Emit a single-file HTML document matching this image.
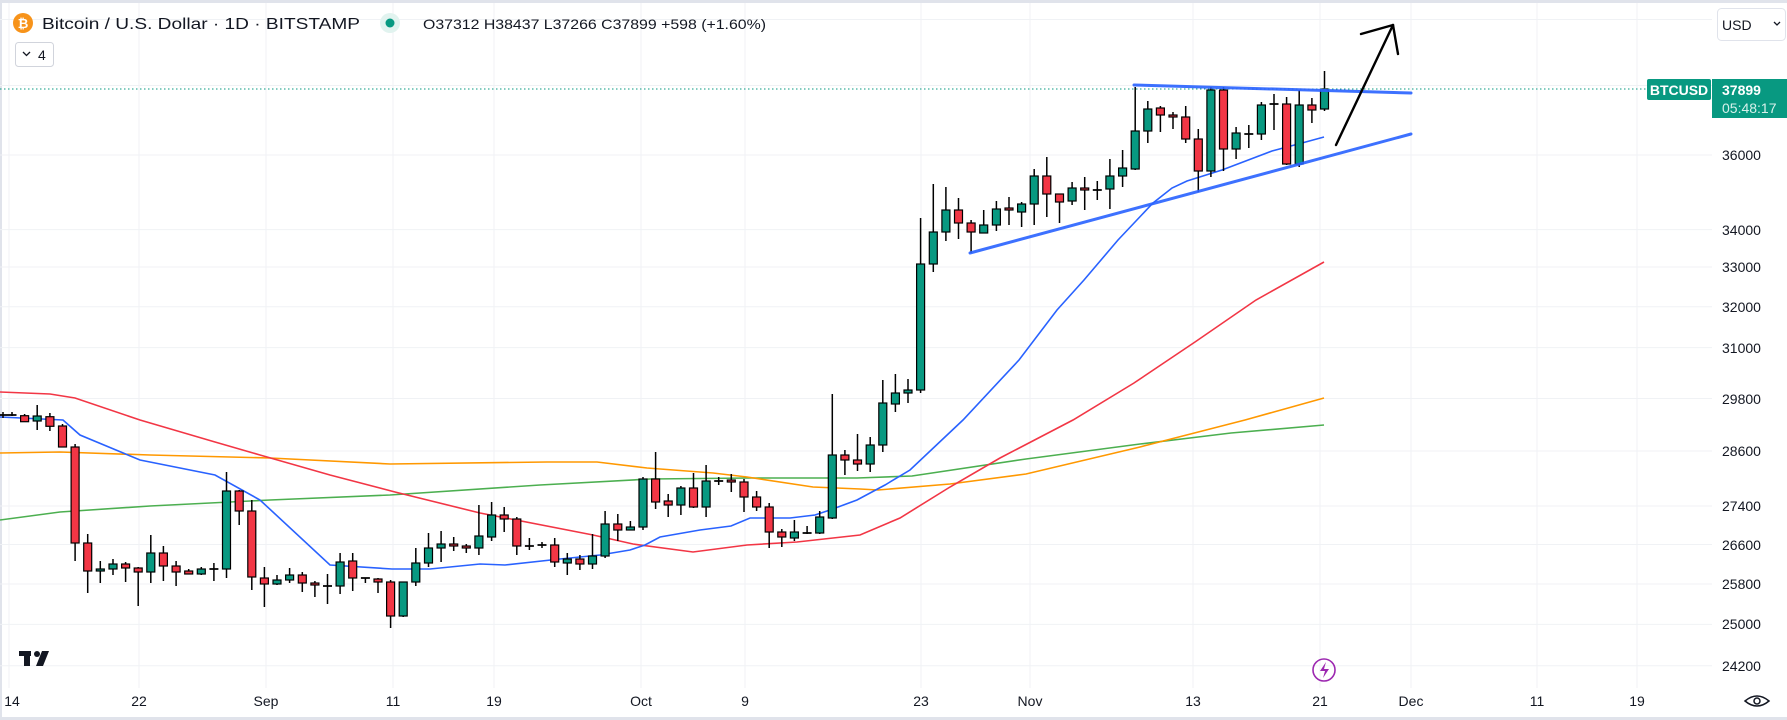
<!DOCTYPE html>
<html><head><meta charset="utf-8"><style>
html,body{margin:0;padding:0;background:#fff;}
svg{display:block;font-family:"Liberation Sans",sans-serif;}
</style></head><body>
<svg width="1787" height="720" viewBox="0 0 1787 720" xmlns="http://www.w3.org/2000/svg">
<rect x="0" y="0" width="1787" height="720" fill="#fff"/>
<rect x="0" y="0" width="1787" height="3" fill="#e0e3eb"/>
<rect x="0" y="0" width="2" height="720" fill="#e0e3eb"/>
<rect x="0" y="717" width="1787" height="3" fill="#e0e3eb"/>
<g stroke="#f0f2f5" stroke-width="1">
<path d="M0 19.5H1712M0 85.5H1712M0 155H1712M0 229.6H1712M0 267H1712M0 306.7H1712M0 347.6H1712M0 398.5H1712M0 451H1712M0 506H1712M0 544.5H1712M0 584H1712M0 624.4H1712M0 665.7H1712"/>
<path d="M9 3V688M139 3V688M266 3V688M393 3V688M494 3V688M641 3V688M745 3V688M921 3V688M1030 3V688M1193 3V688M1320 3V688M1411 3V688M1537 3V688M1637 3V688"/>
</g>
<g fill="none" stroke-width="1.6">
<polyline stroke="#4caf50" points="0,520 60,512 150,506 270,500 390,495 540,485 650,479 750,478 857,478 912,476 1026,459 1140,444 1231,433 1324,425"/>
<polyline stroke="#ff9800" points="0,453 60,452 150,455 270,458 390,464 547,462 597,462 647,468 713,473 747,477 813,487 860,489 878,490 950,484 1026,474 1140,447 1245,420 1324,398"/>
<polyline stroke="#f23645" points="0,392 50,394 75,398 140,420 215,442 260,455 330,475 395,492 480,513 593,535 633,544 693,552 747,545 797,542 860,535 900,518 950,487 1000,458 1073,420 1134,383 1195,342 1256,300 1324,262"/>
<polyline stroke="#2962ff" points="0,417 63,420 80,435 140,460 215,475 260,500 330,565 392,569 430,569 480,564 505,565 560,559 600,555 630,550 645,545 660,537 700,530 731,526 750,518 790,518 815,515 830,510 857,500 885,485 910,470 963,420 1019,360 1057,310 1084,280 1118,240 1153,203 1172,188 1187,181 1222,170 1272,151 1302,143 1324,137"/>
</g>
<!-- wicks -->
<path stroke="#000" stroke-width="1.5" fill="none" d="M3 412V418M12 412V416M24.6 414V422M37.2 405V430M49.9 413V431M62.5 424V447M75.1 444V561M87.7 534V593M100.3 561V583M113 559V575M125.6 562V582M138.2 567V606M150.8 535V583M163.4 546V581M176.1 561V586M188.7 569V574M201.3 567V575M213.9 563V581M226.5 472V578M239.2 490V525M251.8 500V590M264.4 567V607M277 575V585M289.6 568V583M302.3 572V592M314.9 581V597M327.5 574V604M340.1 553V594M352.7 553V591M365.4 578V583M378 578V593M390.6 580V628M403.2 582V617M415.8 548V586M428.5 533V567M441.1 531V562M453.7 537V551M466.3 544V553M478.9 505V555M491.6 502V541M504.2 507V532M516.8 517V555M529.4 538V550M542 542V548M554.7 538V567M567.3 553V575M579.9 555V570M592.5 534V569M605.1 511V558M617.8 514V541M630.4 521V530M643 477V530M655.6 452V509M668.2 494V517M680.9 486V515M693.5 473V508M706.1 465V517M718.7 477V485M731.3 474V492M744 479V512M756.6 491V511M769.2 503V548M781.8 529V547M794.4 520V541M807.1 526V534M819.7 511V534M832.3 394V519M844.9 450V475M857.5 434V471M870.2 437V472M882.8 380V452M895.4 374V412M908 379V403M920.6 218V393M933.3 184V272M945.9 187V241M958.5 198V239M971.1 220V253M983.7 210V233M996.4 201V231M1009 197V225M1021.6 202V227M1034.2 169V225M1046.8 157V217M1059.5 194V223M1072.1 182V205M1084.7 177V210M1097.3 181V200M1109.9 159V209M1122.6 150V187M1135.2 87V170M1147.8 101V143M1160.4 106V132M1173 112V129M1185.7 106V143M1198.3 129V192M1210.9 87V177M1223.5 87V171M1236.1 127V159M1248.8 125V148M1261.4 102V140M1274 94V130M1286.6 97V165M1299.2 90V167M1311.9 98V123M1324.5 71V111"/>
<!-- crosses -->
<path stroke="#000" stroke-width="1.8" fill="none" d="M0 415H7.5M7.5 415H16.5M209.4 569H218.4M323 586H332M360.9 578H369.9M524.9 546H533.9M537.5 545H546.5M714.2 481H723.2M802.6 533H811.6M1092.8 190H1101.8M1244.3 134H1253.3M1269.5 104H1278.5"/>
<!-- green bodies -->
<g fill="#089981" stroke="#000" stroke-width="1.2">
<rect x="33.2" y="416" width="8" height="5"/>
<rect x="96.3" y="569" width="8" height="2"/>
<rect x="109" y="564" width="8" height="5"/>
<rect x="146.8" y="553" width="8" height="19"/>
<rect x="197.3" y="569" width="8" height="5"/>
<rect x="222.5" y="491" width="8" height="78"/>
<rect x="273" y="580" width="8" height="4"/>
<rect x="285.6" y="575" width="8" height="5"/>
<rect x="336.1" y="562" width="8" height="24"/>
<rect x="399.2" y="582" width="8" height="34"/>
<rect x="411.8" y="563" width="8" height="19"/>
<rect x="424.5" y="548" width="8" height="15"/>
<rect x="437.1" y="544" width="8" height="4"/>
<rect x="474.9" y="536" width="8" height="12"/>
<rect x="487.6" y="515" width="8" height="22"/>
<rect x="563.3" y="559" width="8" height="4"/>
<rect x="588.5" y="556" width="8" height="8"/>
<rect x="601.1" y="524" width="8" height="32"/>
<rect x="626.4" y="527" width="8" height="3"/>
<rect x="639" y="479" width="8" height="48"/>
<rect x="676.9" y="488" width="8" height="17"/>
<rect x="702.1" y="481" width="8" height="26"/>
<rect x="790.4" y="532" width="8" height="6"/>
<rect x="815.7" y="517" width="8" height="16"/>
<rect x="828.3" y="455" width="8" height="63"/>
<rect x="866.2" y="445" width="8" height="19"/>
<rect x="878.8" y="403" width="8" height="42"/>
<rect x="891.4" y="393" width="8" height="11"/>
<rect x="904" y="390" width="8" height="3"/>
<rect x="916.6" y="264" width="8" height="126"/>
<rect x="929.3" y="232" width="8" height="32"/>
<rect x="941.9" y="210" width="8" height="22"/>
<rect x="979.7" y="225" width="8" height="8"/>
<rect x="992.4" y="209" width="8" height="16"/>
<rect x="1017.6" y="204" width="8" height="8"/>
<rect x="1030.2" y="176" width="8" height="28"/>
<rect x="1068.1" y="188" width="8" height="13"/>
<rect x="1105.9" y="176" width="8" height="13"/>
<rect x="1118.6" y="168" width="8" height="8"/>
<rect x="1131.2" y="131" width="8" height="38"/>
<rect x="1143.8" y="109" width="8" height="22"/>
<rect x="1206.9" y="90" width="8" height="81"/>
<rect x="1232.1" y="133" width="8" height="16"/>
<rect x="1257.4" y="105" width="8" height="29"/>
<rect x="1295.2" y="105" width="8" height="59"/>
<rect x="1320.5" y="89" width="8" height="20"/>
</g>
<!-- red bodies -->
<g fill="#f23645" stroke="#000" stroke-width="1.2">
<rect x="20.6" y="415.7" width="8" height="6"/>
<rect x="45.9" y="416.7" width="8" height="9.6"/>
<rect x="58.5" y="426" width="8" height="21"/>
<rect x="71.1" y="447" width="8" height="96"/>
<rect x="83.7" y="543" width="8" height="28"/>
<rect x="121.6" y="564" width="8" height="4"/>
<rect x="134.2" y="568" width="8" height="4"/>
<rect x="159.4" y="553" width="8" height="13"/>
<rect x="172.1" y="566" width="8" height="6"/>
<rect x="184.7" y="571" width="8" height="3"/>
<rect x="235.2" y="491" width="8" height="20"/>
<rect x="247.8" y="511" width="8" height="66"/>
<rect x="260.4" y="578" width="8" height="6"/>
<rect x="298.3" y="575" width="8" height="8"/>
<rect x="310.9" y="583" width="8" height="2"/>
<rect x="348.7" y="561" width="8" height="17"/>
<rect x="374" y="579" width="8" height="3"/>
<rect x="386.6" y="582" width="8" height="34"/>
<rect x="449.7" y="544" width="8" height="2"/>
<rect x="462.3" y="546" width="8" height="2"/>
<rect x="500.2" y="515" width="8" height="4"/>
<rect x="512.8" y="519" width="8" height="27"/>
<rect x="550.7" y="545" width="8" height="17"/>
<rect x="575.9" y="559" width="8" height="5"/>
<rect x="613.8" y="524" width="8" height="6"/>
<rect x="651.6" y="479" width="8" height="23"/>
<rect x="664.2" y="501" width="8" height="4"/>
<rect x="689.5" y="488" width="8" height="19"/>
<rect x="727.3" y="480" width="8" height="2"/>
<rect x="740" y="482" width="8" height="15"/>
<rect x="752.6" y="497" width="8" height="10"/>
<rect x="765.2" y="507" width="8" height="25"/>
<rect x="777.8" y="532" width="8" height="5"/>
<rect x="840.9" y="455" width="8" height="5"/>
<rect x="853.5" y="460" width="8" height="4"/>
<rect x="954.5" y="210" width="8" height="13"/>
<rect x="967.1" y="223" width="8" height="9"/>
<rect x="1005" y="208" width="8" height="2"/>
<rect x="1042.8" y="176" width="8" height="18"/>
<rect x="1055.5" y="194" width="8" height="8"/>
<rect x="1080.7" y="188" width="8" height="2"/>
<rect x="1156.4" y="108" width="8" height="7"/>
<rect x="1169" y="115" width="8" height="2"/>
<rect x="1181.7" y="117" width="8" height="22"/>
<rect x="1194.3" y="139" width="8" height="32"/>
<rect x="1219.5" y="90" width="8" height="59"/>
<rect x="1282.6" y="104" width="8" height="60"/>
<rect x="1307.9" y="105" width="8" height="5"/>
</g>
<line x1="0" y1="89" x2="1646" y2="89" stroke="#089981" stroke-width="1" stroke-dasharray="1.5,2.5"/>
<line x1="1134" y1="85" x2="1411" y2="93" stroke="#2962ff" stroke-width="3" stroke-linecap="round" opacity="0.9"/>
<line x1="970" y1="253" x2="1411" y2="134" stroke="#2962ff" stroke-width="3" stroke-linecap="round" opacity="0.9"/>
<line x1="1336" y1="145" x2="1393" y2="25" stroke="#000" stroke-width="2.4" stroke-linecap="round"/>
<polyline points="1361,34 1393,25 1398,54" fill="none" stroke="#000" stroke-width="2.4" stroke-linecap="round" stroke-linejoin="round"/>
<!-- header -->
<circle cx="23" cy="23" r="10" fill="#f7931a"/>
<text x="23" y="28" font-size="13" font-weight="bold" fill="#fff" text-anchor="middle">₿</text>
<text x="42" y="29" font-size="16" fill="#131722" textLength="318" lengthAdjust="spacingAndGlyphs">Bitcoin / U.S. Dollar · 1D · BITSTAMP</text>
<circle cx="390" cy="23" r="10" fill="#e1f3ef"/>
<circle cx="390" cy="23" r="4.5" fill="#089981"/>
<text x="423" y="29" font-size="14" fill="#131722" textLength="343" lengthAdjust="spacingAndGlyphs">O37312 H38437 L37266 C37899 +598 (+1.60%)</text>
<rect x="15.5" y="42.5" width="38" height="24" rx="3" fill="#fff" stroke="#d1d4dc"/>
<path d="M23 52 l3.5 3.5 l3.5 -3.5" fill="none" stroke="#131722" stroke-width="1.3"/>
<text x="38" y="60" font-size="14" fill="#131722">4</text>
<rect x="1717.5" y="8.5" width="68" height="32" rx="4" fill="#fff" stroke="#e0e3eb"/>
<text x="1722" y="30" font-size="14" fill="#131722">USD</text>
<path d="M1774 22 l3 3 l3 -3" fill="none" stroke="#131722" stroke-width="1.3"/>
<g font-size="14" fill="#131722">
<text x="1722" y="160">36000</text>
<text x="1722" y="235">34000</text>
<text x="1722" y="272">33000</text>
<text x="1722" y="312">32000</text>
<text x="1722" y="353">31000</text>
<text x="1722" y="404">29800</text>
<text x="1722" y="456">28600</text>
<text x="1722" y="511">27400</text>
<text x="1722" y="550">26600</text>
<text x="1722" y="589">25800</text>
<text x="1722" y="629">25000</text>
<text x="1722" y="671">24200</text>
</g>
<rect x="1647" y="79" width="64" height="21" rx="2" fill="#089981"/>
<text x="1679" y="95" font-size="14" font-weight="bold" fill="#fff" text-anchor="middle">BTCUSD</text>
<rect x="1712" y="79" width="75" height="39" fill="#089981"/>
<text x="1722" y="95" font-size="14" font-weight="bold" fill="#fff">37899</text>
<text x="1722" y="113" font-size="14" fill="#d6f0ea">05:48:17</text>
<g font-size="14" fill="#131722" text-anchor="middle">
<text x="12" y="706">14</text>
<text x="139" y="706">22</text>
<text x="266" y="706">Sep</text>
<text x="393" y="706">11</text>
<text x="494" y="706">19</text>
<text x="641" y="706">Oct</text>
<text x="745" y="706">9</text>
<text x="921" y="706">23</text>
<text x="1030" y="706">Nov</text>
<text x="1193" y="706">13</text>
<text x="1320" y="706">21</text>
<text x="1411" y="706">Dec</text>
<text x="1537" y="706">11</text>
<text x="1637" y="706">19</text>
</g>
<path d="M1745 701 q12 -10 24 0 q-12 10 -24 0z" fill="none" stroke="#131722" stroke-width="1.5"/>
<circle cx="1757" cy="701" r="3" fill="none" stroke="#131722" stroke-width="1.5"/>
<g fill="#131722">
<rect x="19" y="651" width="12" height="5"/>
<rect x="24" y="651" width="6" height="15"/>
<circle cx="37" cy="654" r="3"/>
<polygon points="42,651 49,651 43,666 36,666"/>
</g>
<circle cx="1324" cy="670" r="11" fill="none" stroke="#9c27b0" stroke-width="1.6"/>
<path d="M1326 662 l-6 9 h5 l-2 7 l6 -9 h-5z" fill="#9c27b0"/>
</svg>
</body></html>
